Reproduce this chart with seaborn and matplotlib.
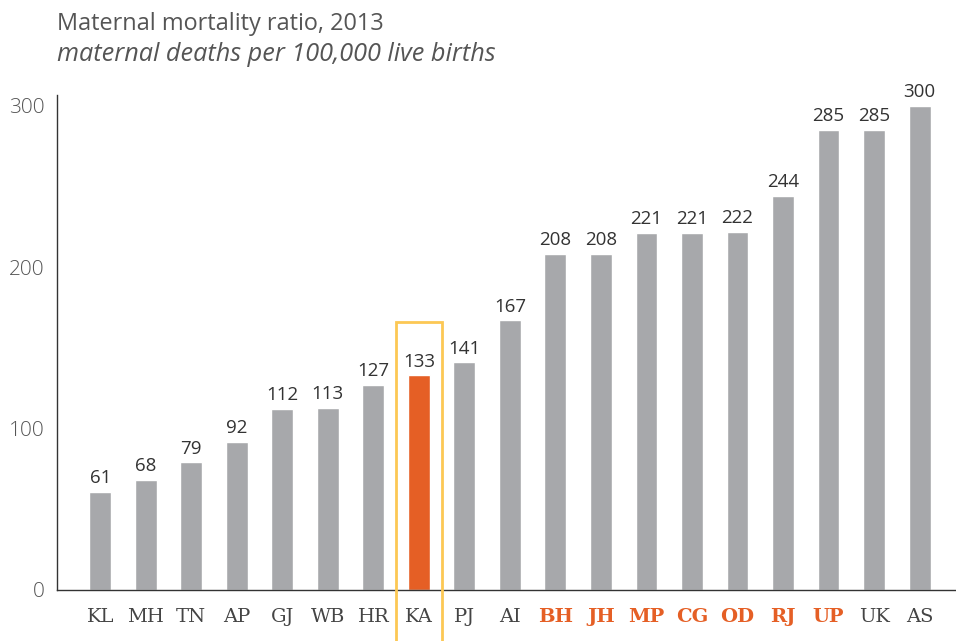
import matplotlib
matplotlib.use("Agg")
import matplotlib.pyplot as plt
import seaborn as sns
import pandas as pd
from matplotlib.patches import Rectangle

sns.set_theme(style="white")
plt.rcParams["font.family"] = ["Open Sans", "DejaVu Sans"]

states = ["KL", "MH", "TN", "AP", "GJ", "WB", "HR", "KA", "PJ", "AI",
          "BH", "JH", "MP", "CG", "OD", "RJ", "UP", "UK", "AS"]
mmr = [61, 68, 79, 92, 112, 113, 127, 133, 141, 167,
       208, 208, 221, 221, 222, 244, 285, 285, 300]
focus_state = "KA"
high_focus = ["BH", "JH", "MP", "CG", "OD", "RJ", "UP"]

GREY = "#a7a8ab"
ORANGE = "#e55f25"
GOLD = "#fcc854"

df = pd.DataFrame({"state": states, "mmr": mmr})
palette = {s: (ORANGE if s == focus_state else GREY) for s in states}

fig = plt.figure(figsize=(9.56, 6.41), dpi=100)
ax = fig.add_axes([0.0596, 0.0796, 0.9404, 0.7724])

sns.barplot(data=df, x="state", y="mmr", hue="state", palette=palette,
            legend=False, width=0.48, saturation=1, ax=ax)

for i, v in enumerate(mmr):
    ax.text(i, v + 3, str(v), ha="center", va="bottom", fontsize=13.5,
            color="#333333")

# highlight box around Karnataka
ki = states.index(focus_state)
ax.add_patch(Rectangle((ki - 0.5, -40), 1.0, 206, fill=False,
                       edgecolor=GOLD, linewidth=2, clip_on=False, zorder=5))

ax.set_xlim(-0.95, 18.8)
ax.set_ylim(0, 306.8)
ax.set_yticks([0, 100, 200, 300])
ax.set_xlabel("")
ax.set_ylabel("")

for side in ["top", "right"]:
    ax.spines[side].set_visible(False)
for side in ["left", "bottom"]:
    ax.spines[side].set_color("#333333")
    ax.spines[side].set_linewidth(1)

ax.tick_params(axis="y", length=0, pad=9, labelsize=15, labelcolor="#555555")
ax.tick_params(axis="x", length=0, pad=13)
for lbl in ax.get_yticklabels():
    lbl.set_fontweight("light")
for lbl in ax.get_xticklabels():
    lbl.set_family(["DejaVu Serif"])
    lbl.set_fontsize(14)
    if lbl.get_text() in high_focus:
        lbl.set_color(ORANGE)
        lbl.set_fontweight("bold")
    else:
        lbl.set_color("#444444")

fig.text(0.0596, 0.963, "Maternal mortality ratio, 2013", fontsize=16.9,
         color="#555555", va="center", ha="left")
fig.text(0.0596, 0.915, "maternal deaths per 100,000 live births",
         fontsize=18.2, color="#555555", style="italic", va="center", ha="left")

fig.savefig("out.png", dpi=100)
